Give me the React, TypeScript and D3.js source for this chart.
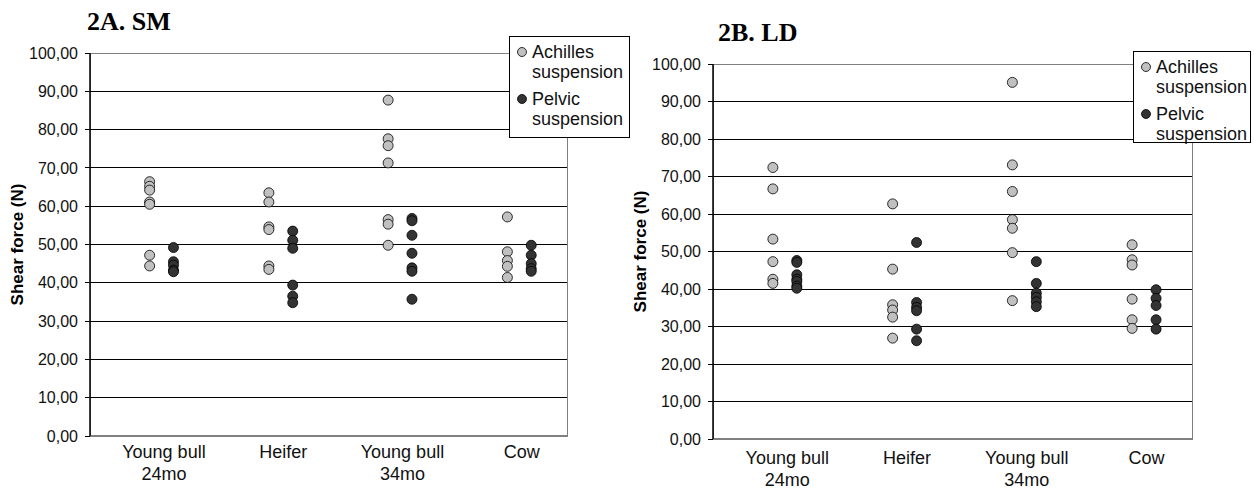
import React from "react";
import * as d3 from "d3";

// categories and tick values
const categories = [["Young bull", "24mo"], ["Heifer"], ["Young bull", "34mo"], ["Cow"]];
const yTicks = [0, 10, 20, 30, 40, 50, 60, 70, 80, 90, 100];
const seriesNames = [["Achilles", "suspension"], ["Pelvic", "suspension"]];
const seriesColors = ["#c0c0c0", "#333333"];

// 2A. SM  – shear force per category
const smAchilles = [
  [66.4, 65.2, 64.2, 61.1, 60.5, 47.2, 44.4],
  [63.5, 61.1, 54.6, 53.9, 44.4, 43.5],
  [87.7, 77.6, 75.8, 71.3, 56.5, 55.3, 49.8],
  [57.2, 48.1, 45.8, 44.3, 41.4],
];
const smPelvic = [
  [49.2, 45.5, 44.6, 43.3, 42.9],
  [53.5, 51.1, 49.0, 39.4, 36.5, 34.8],
  [56.8, 56.2, 52.4, 47.7, 43.9, 43.0, 35.7],
  [49.8, 47.2, 45.0, 43.7, 43.0],
];

// 2B. LD
const ldAchilles = [
  [72.4, 66.7, 53.3, 47.3, 42.6, 41.5],
  [62.7, 45.3, 35.8, 34.4, 32.5, 26.9],
  [95.1, 73.1, 66.0, 58.5, 56.2, 49.7, 36.9],
  [51.8, 47.8, 46.4, 37.3, 31.8, 29.5],
];
const ldPelvic = [
  [47.6, 47.1, 43.8, 42.6, 42.0, 40.8, 40.2],
  [52.4, 36.4, 35.1, 34.2, 29.3, 26.2],
  [47.3, 41.5, 38.9, 37.8, 36.6, 35.3],
  [39.8, 37.5, 35.6, 31.8, 29.3],
];

const fmt = (v: number) => v.toFixed(2).replace(".", ",");

type PanelProps = {
  title: string;
  titleX: number;
  titleY: number;
  left: number;
  top: number;
  right: number;
  bottom: number;
  achilles: number[][];
  pelvic: number[][];
  legendX: number;
  legendY: number;
  legendW: number;
  legendH: number;
  labelX: number;
  catDy: number;
};

const Panel = (p: PanelProps) => {
  const x = d3.scaleLinear().domain([0.5, 4.5]).range([p.left, p.right]);
  const y = d3.scaleLinear().domain([0, 100]).range([p.bottom, p.top]);
  const font = "Arial, 'Liberation Sans', sans-serif";
  const all = [p.achilles, p.pelvic];

  return (
    <g>
      <text x={p.titleX} y={p.titleY} fontFamily="'Times New Roman', 'Liberation Serif', serif"
        fontWeight="bold" fontSize={26}>{p.title}</text>
      {/* plot frame */}
      <rect x={p.left} y={p.top} width={p.right - p.left} height={p.bottom - p.top}
        fill="none" stroke="#808080" strokeWidth={1} shapeRendering="crispEdges" />
      {yTicks.slice(1, -1).map((t) => (
        <line key={t} x1={p.left} x2={p.right} y1={y(t)} y2={y(t)} stroke="#000"
          strokeWidth={1} shapeRendering="crispEdges" />
      ))}
      <line x1={p.left} x2={p.right} y1={y(0)} y2={y(0)} stroke="#808080" strokeWidth={2} />
      <line x1={p.left} x2={p.left} y1={p.top} y2={p.bottom} stroke="#000" strokeWidth={1.5} />
      {yTicks.map((t) => (
        <g key={t}>
          <line x1={p.left - 5} x2={p.left} y1={y(t)} y2={y(t)} stroke="#000" shapeRendering="crispEdges" />
          <text x={p.left - 12} y={y(t)} dy="0.35em" textAnchor="end" fontFamily={font}
            fontSize={16} fill="#111">{fmt(t)}</text>
        </g>
      ))}
      <text transform={`translate(${p.labelX},${(p.top + p.bottom) / 2}) rotate(-90)`}
        textAnchor="middle" fontFamily={font} fontWeight="bold" fontSize={17}>Shear force (N)</text>
      {categories.map((c, i) => (
        <text key={i} x={x(i + 1.12)} y={p.bottom + p.catDy} textAnchor="middle" fontFamily={font}
          fontSize={18} fill="#111">
          {c.map((line, j) => (
            <tspan key={j} x={x(i + 1.12)} dy={j === 0 ? 0 : 22}>{line}</tspan>
          ))}
        </text>
      ))}
      {all.map((series, s) =>
        series.map((vals, i) =>
          vals.map((v, k) => (
            <circle key={`${s}-${i}-${k}`} cx={x(i + 1 + s * 0.2)} cy={y(v)} r={5}
              fill={seriesColors[s]} stroke="#000" strokeWidth={0.8} />
          ))
        )
      )}
      {/* legend */}
      <rect x={p.legendX} y={p.legendY} width={p.legendW} height={p.legendH} fill="#fff"
        stroke="#000" strokeWidth={1} shapeRendering="crispEdges" />
      {seriesNames.map((n, s) => (
        <g key={s}>
          <circle cx={p.legendX + 13} cy={p.legendY + 16 + s * 47} r={4.5} fill={seriesColors[s]}
            stroke="#000" strokeWidth={0.8} />
          <text x={p.legendX + 23} y={p.legendY + 22 + s * 47} fontFamily={font} fontSize={18} fill="#111">
            <tspan x={p.legendX + 23}>{n[0]}</tspan>
            <tspan x={p.legendX + 23} dy={20}>{n[1]}</tspan>
          </text>
        </g>
      ))}
    </g>
  );
};

export default function App() {
  return (
    <svg width={1254} height={490} style={{ position: "absolute", left: 0, top: 0, background: "#fff" }}>
      <rect width={1254} height={490} fill="#fff" />
      <Panel title="2A. SM" titleX={87} titleY={30} left={90} top={53} right={567} bottom={436}
        achilles={smAchilles} pelvic={smPelvic} legendX={509} legendY={36} legendW={120} legendH={101}
        labelX={23} catDy={22} />
      <Panel title="2B. LD" titleX={718} titleY={41} left={713} top={64} right={1192} bottom={439}
        achilles={ldAchilles} pelvic={ldPelvic} legendX={1133} legendY={51} legendW={117} legendH={91}
        labelX={646} catDy={25} />
    </svg>
  );
}
